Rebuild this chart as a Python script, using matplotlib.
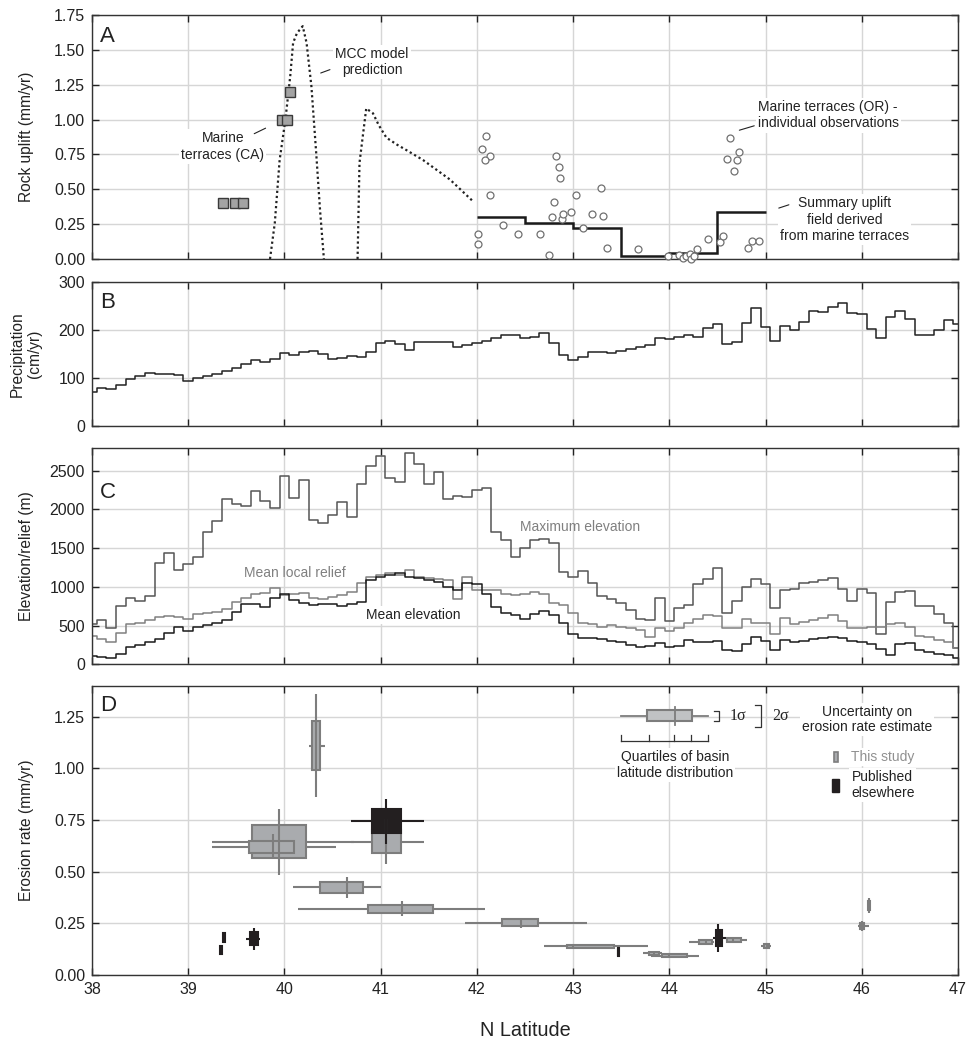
import numpy as np
import matplotlib
matplotlib.use("Agg")
import matplotlib.pyplot as plt
from matplotlib.patches import Rectangle

# ---------------------------------------------------------------------
# Data
# ---------------------------------------------------------------------
# A - rock uplift
mcc1_lat = [39.85, 39.90, 39.95, 40.01, 40.06, 40.09, 40.13, 40.19, 40.23, 40.28, 40.33, 40.37, 40.41]
mcc1_val = [0.0, 0.26, 0.71, 1.0, 1.31, 1.55, 1.62, 1.67, 1.55, 1.24, 0.76, 0.35, 0.0]
mcc2_lat = [40.76, 40.78, 40.85, 40.92, 40.98, 41.06, 41.17, 41.27, 41.44, 41.72, 41.95]
mcc2_val = [0.0, 0.69, 1.08, 1.045, 0.96, 0.87, 0.82, 0.78, 0.71, 0.57, 0.42]

ca_lat = [39.36, 39.49, 39.57, 39.97, 40.03, 40.06]
ca_val = [0.40, 0.40, 0.40, 1.00, 1.00, 1.20]

or_lat = [42.09, 42.05, 42.14, 42.08, 42.14, 42.01, 42.01, 42.27, 42.43, 42.66, 42.75,
          42.82, 42.85, 42.86, 42.80, 42.78, 42.88, 42.90, 42.98, 43.03, 43.10, 43.20,
          43.29, 43.31, 43.35, 43.67, 43.99, 44.10, 44.14, 44.17, 44.21, 44.23, 44.26,
          44.29, 44.40, 44.53, 44.56, 44.63, 44.60, 44.72, 44.70, 44.67, 44.82, 44.86, 44.93]
or_val = [0.88, 0.79, 0.74, 0.71, 0.46, 0.18, 0.11, 0.244, 0.18, 0.18, 0.03,
          0.74, 0.66, 0.58, 0.41, 0.30, 0.29, 0.32, 0.335, 0.46, 0.22, 0.32,
          0.51, 0.31, 0.08, 0.07, 0.02, 0.03, 0.005, 0.02, 0.035, 0.0, 0.02,
          0.07, 0.14, 0.125, 0.165, 0.87, 0.72, 0.765, 0.71, 0.63, 0.08, 0.13, 0.13]

summ_edges = [42.0, 42.5, 43.0, 43.5, 44.0, 44.5, 45.0]
summ_val = [0.30, 0.26, 0.225, 0.025, 0.045, 0.335]

# B, C - 0.1 degree bins from 38.0 to 47.0
bin_lat = np.round(np.arange(380, 471) / 10.0, 1)
precip = [70, 79, 76, 85, 97, 103, 110, 108, 108, 105,
          93, 100, 103, 107, 114, 121, 128, 136, 132, 140,
          151, 147, 153, 156, 149, 140, 142, 146, 144, 154,
          173, 177, 170, 157, 174, 174, 175, 175, 165, 168,
          172, 176, 182, 190, 190, 183, 185, 194, 172, 147,
          137, 144, 153, 154, 151, 156, 159, 163, 168, 183,
          181, 184, 189, 185, 203, 211, 170, 174, 215, 246,
          206, 177, 208, 199, 217, 240, 237, 248, 256, 235,
          232, 201, 183, 226, 240, 222, 189, 190, 199, 220,
          211]
max_elev = [520, 572, 473, 753, 852, 822, 882, 1304, 1433, 1218,
            1295, 1381, 1713, 1855, 2130, 2065, 2044, 2242, 2108, 2022,
            2435, 2143, 2380, 1863, 1820, 1928, 2100, 1898, 2324, 2560,
            2694, 2410, 2350, 2732, 2582, 2324, 2487, 2130, 2177, 2156,
            2250, 2272, 1713, 1605, 1381, 1497, 1605, 1614, 1562, 1196,
            1123, 1205, 1054, 882, 839, 787, 701, 581, 572, 861,
            559, 723, 766, 1033, 1097, 1239, 658, 818, 1003, 1097,
            1037, 723, 960, 968, 1054, 1067, 1089, 1110, 968, 818,
            968, 917, 387, 809, 938, 947, 757, 757, 645, 529,
            207]
relief = [370, 327, 292, 409, 520, 538, 572, 615, 628, 615,
          585, 650, 667, 680, 710, 800, 852, 908, 925, 981,
          895, 908, 925, 860, 839, 874, 895, 938, 1046, 1132,
          1153, 1175, 1153, 1218, 1132, 1110, 1097, 1089, 840, 1130,
          960, 960, 960, 903, 895, 908, 938, 908, 787, 766,
          658, 538, 516, 486, 508, 486, 465, 443, 357, 465,
          435, 473, 538, 581, 637, 624, 465, 465, 581, 529,
          529, 392, 594, 516, 551, 572, 602, 637, 559, 473,
          473, 486, 486, 516, 538, 486, 366, 349, 314, 292,
          207]
mean_elev = [107, 90, 77, 129, 219, 250, 292, 327, 409, 486,
             430, 478, 508, 529, 572, 680, 775, 779, 736, 852,
             908, 830, 796, 766, 775, 775, 757, 779, 809, 1089,
             1132, 1153, 1175, 1132, 1110, 1089, 1067, 1003, 960, 1046,
             1037, 903, 744, 667, 637, 585, 650, 693, 637, 529,
             387, 344, 336, 323, 301, 292, 250, 219, 237, 271,
             219, 237, 314, 284, 288, 301, 185, 176, 262, 357,
             301, 185, 314, 292, 301, 323, 336, 357, 336, 305,
             284, 262, 198, 120, 258, 280, 185, 163, 129, 120,
             77]

# D - basin erosion rates: latitude min, Q1, median, Q3, max; rate, 1 sigma, 2 sigma
b_min = [40.26, 39.25, 39.25, 40.69, 40.09, 40.14, 41.88, 42.70, 43.73, 43.81, 44.20, 44.59, 44.95, 45.96, 46.05]
b_q1 = [40.29, 39.66, 39.63, 40.91, 40.37, 40.87, 42.26, 42.94, 43.79, 43.92, 44.31, 44.60, 44.98, 45.98, 46.06]
b_med = [40.33, 39.94, 39.88, 41.06, 40.65, 41.22, 42.46, 43.00, 43.84, 44.00, 44.38, 44.66, 45.01, 46.00, 46.07]
b_q3 = [40.37, 40.22, 40.10, 41.21, 40.82, 41.54, 42.64, 43.43, 43.89, 44.18, 44.44, 44.75, 45.04, 46.02, 46.09]
b_max = [40.42, 40.72, 40.54, 41.45, 41.00, 42.08, 43.14, 43.78, 43.92, 44.31, 44.46, 44.81, 45.06, 46.07, 46.10]
b_rate = [1.11, 0.645, 0.62, 0.645, 0.425, 0.32, 0.253, 0.138, 0.105, 0.094, 0.158, 0.171, 0.139, 0.237, 0.337]
b_s1 = [0.12, 0.08, 0.03, 0.055, 0.027, 0.018, 0.016, 0.009, 0.008, 0.007, 0.01, 0.01, 0.009, 0.016, 0.022]
b_s2 = [0.25, 0.16, 0.06, 0.11, 0.05, 0.036, 0.024, 0.014, 0.012, 0.01, 0.015, 0.014, 0.013, 0.022, 0.035]

p_min = [40.69, 44.45, 39.60, 43.465, 39.365, 39.335]
p_q1 = [40.91, 44.48, 39.64, 43.462, 39.362, 39.332]
p_med = [41.06, 44.51, 39.68, 43.47, 39.37, 39.34]
p_q3 = [41.21, 44.55, 39.72, 43.478, 39.378, 39.348]
p_max = [41.45, 44.59, 39.75, 43.475, 39.375, 39.345]
p_rate = [0.744, 0.179, 0.176, 0.11, 0.18, 0.122]
p_s1 = [0.058, 0.039, 0.03, 0.02, 0.022, 0.02]
p_s2 = [0.11, 0.068, 0.053, 0.02, 0.022, 0.02]

# ---------------------------------------------------------------------
# Figure layout
# ---------------------------------------------------------------------
W, H = 969, 1044
fig = plt.figure(figsize=(W / 100, H / 100), dpi=100)
plt.rcParams['font.family'] = ['Liberation Sans', 'DejaVu Sans']

X0, X1 = 92, 958
def add_ax(top, bottom):
    return fig.add_axes([X0 / W, (H - bottom) / H, (X1 - X0) / W, (bottom - top) / H])

axA = add_ax(15, 259)
axB = add_ax(281.7, 425.7)
axC = add_ax(448.3, 664.3)
axD = add_ax(685.7, 975)

GRID = '#d6d6d6'
for ax in (axA, axB, axC, axD):
    ax.set_xlim(38, 47)
    ax.set_xticks(range(38, 48))
    ax.grid(True, color=GRID, lw=1.0)
    ax.set_axisbelow(True)
    ax.tick_params(direction='in', top=True, right=True, length=5, width=1,
                   labelsize=11.5, colors='#222222', pad=5)
    for s in ax.spines.values():
        s.set_color('#333333')
        s.set_linewidth(1.0)
    if ax is not axD:
        ax.tick_params(labelbottom=False)

def panel_letter(ax, letter, yfrac):
    ax.text(0.009, yfrac, letter, transform=ax.transAxes, fontsize=16,
            va='top', ha='left', color='#222222')

box_bg = dict(fc='white', ec='none', pad=1.5)
FS = 10

# ---------------------------------------------------------------------
# A - Rock uplift
# ---------------------------------------------------------------------
axA.set_ylim(0, 1.75)
axA.set_yticks(np.arange(0, 1.76, 0.25))
axA.set_yticklabels(['%.2f' % v for v in np.arange(0, 1.76, 0.25)])
axA.plot(mcc1_lat, mcc1_val, color='#222222', lw=1.6, ls=(0, (1, 1.3)))
axA.plot(mcc2_lat, mcc2_val, color='#222222', lw=1.6, ls=(0, (1, 1.3)))
axA.plot(or_lat, or_val, 'o', ms=5, mfc='white', mec='#707070', mew=0.9, clip_on=False, zorder=4)
axA.plot(ca_lat, ca_val, 's', ms=7.5, mfc='#a3a3a3', mec='#3a3a3a', mew=1.0, zorder=5)
axA.stairs(summ_val, summ_edges, color='#1a1a1a', lw=1.8, baseline=None, zorder=3)

axA.text(40.91, 1.413, 'MCC model\nprediction', ha='center', va='center',
         fontsize=FS, color='#222222', bbox=box_bg, linespacing=1.2)
axA.annotate('', xy=(40.35, 1.327), xytext=(40.50, 1.365),
             arrowprops=dict(arrowstyle='-', lw=0.8, color='#222222'))
axA.text(39.36, 0.807, 'Marine\nterraces (CA)', ha='center', va='center',
         fontsize=FS, color='#222222', bbox=box_bg, linespacing=1.2)
axA.annotate('', xy=(39.66, 0.89), xytext=(39.83, 0.947),
             arrowprops=dict(arrowstyle='-', lw=0.8, color='#222222'))
axA.text(45.65, 1.03, 'Marine terraces (OR) -\nindividual observations', ha='center', va='center',
         fontsize=FS, color='#222222', bbox=box_bg, linespacing=1.2)
axA.annotate('', xy=(44.70, 0.918), xytext=(44.91, 0.961),
             arrowprops=dict(arrowstyle='-', lw=0.8, color='#222222'))
axA.text(45.82, 0.283, 'Summary uplift\nfield derived\nfrom marine terraces', ha='center', va='center',
         fontsize=FS, color='#222222', bbox=box_bg, linespacing=1.2)
axA.annotate('', xy=(45.11, 0.359), xytext=(45.27, 0.395),
             arrowprops=dict(arrowstyle='-', lw=0.8, color='#222222'))
panel_letter(axA, 'A', 0.955)

# ---------------------------------------------------------------------
# B - Precipitation
# ---------------------------------------------------------------------
axB.set_ylim(0, 300)
axB.set_yticks([0, 100, 200, 300])
axB.step(bin_lat, precip, where='mid', color='#222222', lw=1.1)
panel_letter(axB, 'B', 0.93)

# ---------------------------------------------------------------------
# C - Elevation / relief
# ---------------------------------------------------------------------
axC.set_ylim(0, 2790)
axC.set_yticks(range(0, 2501, 500))
axC.step(bin_lat, max_elev, where='mid', color='#555555', lw=1.1)
axC.step(bin_lat, relief, where='mid', color='#808080', lw=1.1)
axC.step(bin_lat, mean_elev, where='mid', color='#1a1a1a', lw=1.1)
axC.text(40.11, 1180, 'Mean local relief', ha='center', va='center', fontsize=FS, color='#808080')
axC.text(41.34, 638, 'Mean elevation', ha='center', va='center', fontsize=FS,
         color='#222222', bbox=box_bg)
axC.text(43.07, 1774, 'Maximum elevation', ha='center', va='center', fontsize=FS, color='#808080')
panel_letter(axC, 'C', 0.845)

# ---------------------------------------------------------------------
# D - Erosion rates
# ---------------------------------------------------------------------
axD.set_ylim(0, 1.40)
axD.set_yticks(np.arange(0, 1.26, 0.25))
axD.set_yticklabels(['%.2f' % v for v in np.arange(0, 1.26, 0.25)])
axD.set_xticklabels([str(v) for v in range(38, 48)])

def basin(ax, lo, q1, med, q3, hi, r, s1, s2, fill, line):
    ax.plot([lo, hi], [r, r], color=line, lw=1.5, zorder=3, solid_capstyle='butt')
    ax.add_patch(Rectangle((q1, r - s1), q3 - q1, 2 * s1, fc=fill, ec=line, lw=1.5, zorder=4))
    ax.plot([med, med], [r - s2, r + s2], color=line, lw=1.5, zorder=5, solid_capstyle='butt')

GFILL, GLINE = '#a9abae', '#7d7d7d'
BFILL, BLINE = '#231f20', '#231f20'
for i in range(len(b_rate)):
    basin(axD, b_min[i], b_q1[i], b_med[i], b_q3[i], b_max[i], b_rate[i], b_s1[i], b_s2[i], GFILL, GLINE)
for i in range(len(p_rate)):
    basin(axD, p_min[i], p_q1[i], p_med[i], p_q3[i], p_max[i], p_rate[i], p_s1[i], p_s2[i], BFILL, BLINE)

# legend (axes fraction coordinates)
T = axD.transAxes
LY = 0.896
axD.plot([0.611, 0.711], [LY, LY], color=GLINE, lw=1.3, transform=T, zorder=6)
axD.add_patch(Rectangle((0.641, LY - 0.019), 0.052, 0.038, fc='#c0c2c4', ec=GLINE, lw=1.5,
                        transform=T, zorder=7))
axD.plot([0.673, 0.673], [0.864, 0.926], color=GLINE, lw=1.3, transform=T, zorder=8)
axD.plot([0.611, 0.711], [0.809, 0.809], color='#333333', lw=0.9, transform=T, zorder=6)
for xt in [0.611, 0.643, 0.672, 0.692, 0.711]:
    axD.plot([xt, xt], [0.809, 0.830], color='#333333', lw=0.9, transform=T, zorder=6)
# sigma brackets
axD.plot([0.718, 0.724, 0.724, 0.718], [0.913, 0.913, 0.879, 0.879], color='#333333', lw=0.9,
         transform=T, zorder=6)
axD.text(0.746, LY, '1σ', transform=T, ha='center', va='center', fontsize=11.5,
         family=['Liberation Serif', 'DejaVu Serif'], color='#222222')
axD.plot([0.766, 0.772, 0.772, 0.766], [0.935, 0.935, 0.857, 0.857], color='#333333', lw=0.9,
         transform=T, zorder=6)
axD.text(0.795, LY, '2σ', transform=T, ha='center', va='center', fontsize=11.5,
         family=['Liberation Serif', 'DejaVu Serif'], color='#222222')
axD.text(0.895, 0.883, 'Uncertainty on\nerosion rate estimate', transform=T, ha='center',
         va='center', fontsize=FS, color='#222222', bbox=box_bg, linespacing=1.15)
axD.text(0.673, 0.726, 'Quartiles of basin\nlatitude distribution', transform=T, ha='center',
         va='center', fontsize=FS, color='#222222', bbox=box_bg, linespacing=1.15)
axD.add_patch(Rectangle((0.857, 0.735), 0.005, 0.036, fc=GFILL, ec=GLINE, lw=1.2, transform=T, zorder=7))
axD.text(0.877, 0.754, 'This study', transform=T, ha='left', va='center', fontsize=FS,
         color='#909090', bbox=box_bg)
axD.add_patch(Rectangle((0.855, 0.633), 0.008, 0.046, fc=BFILL, ec=BLINE, lw=1.0, transform=T, zorder=7))
axD.text(0.913, 0.657, 'Published\nelsewhere', transform=T, ha='center', va='center', fontsize=FS,
         color='#222222', bbox=box_bg, linespacing=1.15)
panel_letter(axD, 'D', 0.968)

# ---------------------------------------------------------------------
# Axis titles
# ---------------------------------------------------------------------
def ylab(top, bottom, text, x=27):
    fig.text(x / W, 1 - (top + bottom) / 2 / H, text, rotation=90, ha='center', va='center',
             fontsize=11.2, color='#222222', linespacing=1.15)

ylab(15, 259, 'Rock uplift (mm/yr)')
ylab(281.7, 425.7, 'Precipitation\n(cm/yr)', x=26)
ylab(448.3, 664.3, 'Elevation/relief (m)')
ylab(685.7, 975, 'Erosion rate (mm/yr)')
fig.text(525 / W, 1 - 1030 / H, 'N Latitude', ha='center', va='center', fontsize=14.3, color='#222222')

fig.savefig('out.png', dpi=100)
